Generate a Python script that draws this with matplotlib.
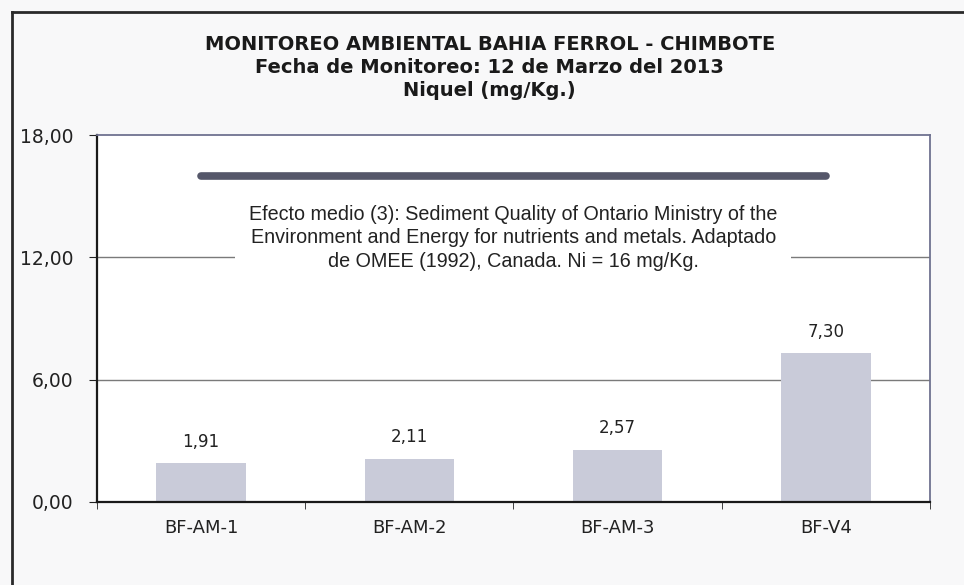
import matplotlib.pyplot as plt
from matplotlib.lines import Line2D

# datos de niquel por estacion
estaciones = ['BF-AM-1', 'BF-AM-2', 'BF-AM-3', 'BF-V4']
niquel = [1.91, 2.11, 2.57, 7.30]
limite_ni = 16
y_ticks = [0, 6, 12, 18]

titulo = ('MONITOREO AMBIENTAL BAHIA FERROL - CHIMBOTE\n'
          'Fecha de Monitoreo: 12 de Marzo del 2013\n'
          'Niquel (mg/Kg.)')
nota = ('Efecto medio (3): Sediment Quality of Ontario Ministry of the\n'
        'Environment and Energy for nutrients and metals. Adaptado\n'
        'de OMEE (1992), Canada. Ni = 16 mg/Kg.')

fig = plt.figure(figsize=(9.64, 5.85), dpi=100, facecolor='#f8f8f9')
ax = fig.add_axes([0.1006, 0.1419, 0.8641, 0.6273])
ax.set_facecolor('white')

x = list(range(len(estaciones)))
bars = ax.bar(x, niquel, width=0.43, color='#c9cbd9', zorder=2)

for bar in bars:
    h = bar.get_height()
    ax.annotate(f'{h:.2f}'.replace('.', ','),
                (bar.get_x() + bar.get_width() / 2, h),
                xytext=(0, 9), textcoords='offset points',
                ha='center', va='bottom', fontsize=12, color='#222222')

# linea del efecto medio
ax.plot([x[0], x[-1]], [limite_ni, limite_ni], color='#55576a', lw=5.5,
        solid_capstyle='round', zorder=3)

ax.text(1.5, 12.95, nota, ha='center', va='center', fontsize=14.2,
        family='Liberation Sans', color='#222222', linespacing=1.3,
        bbox=dict(facecolor='white', edgecolor='none', pad=10), zorder=4)

for yv in y_ticks[1:-1]:
    ax.axhline(yv, color='#7a7a7a', lw=1.0, zorder=1)

ax.set_xlim(-0.5, 3.5)
ax.set_ylim(0, 18)
ax.set_yticks(y_ticks)
ax.set_yticklabels([f'{v:.2f}'.replace('.', ',') for v in y_ticks],
                   fontsize=13.5, color='#222222')
ax.set_xticks(x)
ax.set_xticklabels(estaciones, fontsize=13, color='#222222')
ax.tick_params(axis='x', length=0, pad=12)
ax.set_xticks([i - 0.5 for i in range(len(estaciones) + 1)], minor=True)
ax.tick_params(axis='x', which='minor', length=5, direction='out', color='#222222')
ax.tick_params(axis='y', length=6, direction='out', color='#222222', pad=11)

ax.spines['left'].set_color('#1a1a1a')
ax.spines['left'].set_linewidth(1.6)
ax.spines['bottom'].set_color('#1a1a1a')
ax.spines['bottom'].set_linewidth(1.6)
ax.spines['top'].set_color('#6f7290')
ax.spines['top'].set_linewidth(1.3)
ax.spines['right'].set_color('#6f7290')
ax.spines['right'].set_linewidth(1.3)

fig.text(0.508, 0.885, titulo, ha='center', va='center', fontsize=14,
         fontweight='bold', color='#1a1a1a', linespacing=1.27)

# marco exterior
fig.add_artist(Line2D([12 / 964, 1], [1 - 12 / 585, 1 - 12 / 585],
                      color='#2a2a2a', lw=2))
fig.add_artist(Line2D([12 / 964, 12 / 964], [0, 1 - 12 / 585],
                      color='#2a2a2a', lw=2))

fig.savefig('out.png', dpi=100, facecolor=fig.get_facecolor())
